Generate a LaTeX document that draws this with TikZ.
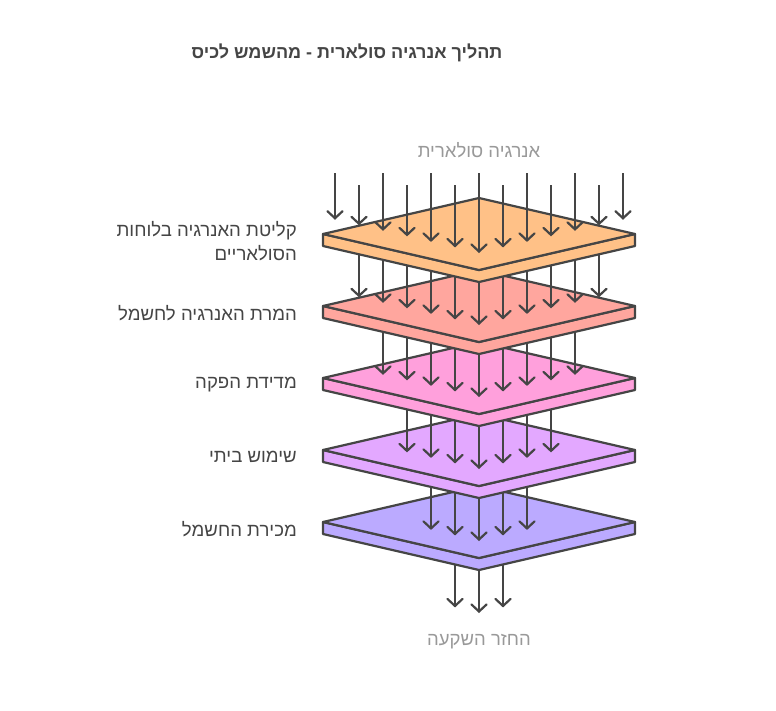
\documentclass[tikz,border=0pt]{standalone}
\usepackage{fontspec}
\setmainfont{Liberation Sans}
\newfontfamily\hebfont[Script=Hebrew]{Liberation Sans}
\TeXXeTstate=1
\usetikzlibrary{arrows.meta}

\definecolor{ink}{HTML}{454545}
\definecolor{soft}{HTML}{999999}
\definecolor{plateA}{HTML}{FFC187}
\definecolor{plateB}{HTML}{FFA69E}
\definecolor{plateC}{HTML}{FFA0DC}
\definecolor{plateD}{HTML}{E3A8FF}
\definecolor{plateE}{HTML}{BBAAFF}

% one plate: #1 = y of its side corners, #2 = fill
\newcommand{\plate}[2]{%
  \draw[plateline, fill=#2] (323,#1) -- (479,{#1+36}) -- (635,#1)
    -- (635,{#1+12}) -- (479,{#1+48}) -- (323,{#1+12}) -- cycle;
  \draw[plateline, fill=#2] (323,#1) -- (479,{#1-36}) -- (635,#1)
    -- (479,{#1+36}) -- cycle;}

% rays landing on a plate: #1 = y of plate, #2 = y of plate above, #3 = half count
\newcommand{\rays}[3]{%
  \foreach \k in {-#3,...,#3}
    \draw[ray] ({479+24*\k},#2) -- ({479+24*\k},{#1+19-5.54*abs(\k)});}

\begin{document}
\begin{tikzpicture}[x=1pt, y=-1pt]
  \tikzset{plateline/.style={draw=ink, line width=2.2pt, line join=round},
    ray/.style={draw=ink, line width=2.2pt,
      -{Straight Barb[length=7pt, width=15pt, line cap=round]}},
    steplabel/.style={anchor=east, align=right, text=ink,
      font=\hebfont\fontsize{18.6}{24}\selectfont, inner sep=0pt},
    endlabel/.style={text=soft, font=\hebfont\fontsize{18.5}{22}\selectfont,
      inner sep=0pt}}
  \useasboundingbox (0,0) rectangle (776,710);

  \node[text=ink, font=\hebfont\bfseries\fontsize{18}{22}\selectfont,
    inner sep=0pt] (title) at (347,53)
    {\beginR תהליך אנרגיה סולארית - מהשמש לכיס\endR};

  % return below the last plate
  \foreach \k in {-1,0,1}
    \draw[ray] ({479+24*\k},522) -- ({479+24*\k},{613-5.54*abs(\k)});

  \plate{522}{plateE}
  \rays{522}{450}{2}
  \plate{450}{plateD}
  \rays{450}{378}{3}
  \plate{378}{plateC}
  \rays{378}{306}{4}
  \plate{306}{plateB}
  \rays{306}{234}{5}
  \plate{234}{plateA}

  % incoming sunlight
  \foreach \k in {-6,...,6}{
    \pgfmathsetmacro\top{isodd(\k) ? 185 : 173}
    \draw[ray] ({479+24*\k},\top) -- ({479+24*\k},{253-5.54*abs(\k)});}

  \node[endlabel] (sun) at (479,150) {\beginR אנרגיה סולארית\endR};
  \node[endlabel] (gain) at (479,642) {\beginR החזר השקעה\endR};

  \node[steplabel] (capture) at (297,241)
    {\beginR קליטת האנרגיה בלוחות\endR\\\beginR הסולאריים\endR};
  \node[steplabel] (convert) at (297,313) {\beginR המרת האנרגיה לחשמל\endR};
  \node[steplabel] (meter) at (297,385) {\beginR מדידת הפקה\endR};
  \node[steplabel] (home) at (297,457) {\beginR שימוש ביתי\endR};
  \node[steplabel] (sell) at (297,529) {\beginR מכירת החשמל\endR};
\end{tikzpicture}
\end{document}
